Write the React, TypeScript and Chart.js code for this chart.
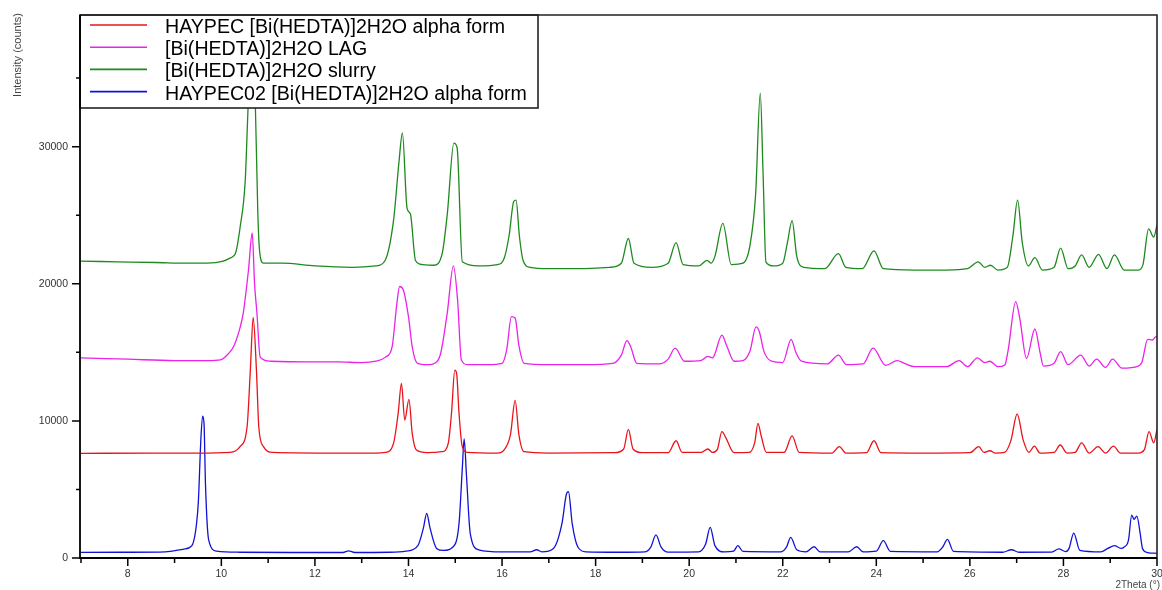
import React, { useEffect, useRef } from "react";
import { Chart, registerables } from "chart.js";

Chart.register(...registerables);

// ---- Data: [2Theta (°), intensity (counts)] ----
const seriesNames = [
  "HAYPEC [Bi(HEDTA)]2H2O alpha form",
  "[Bi(HEDTA)]2H2O LAG",
  "[Bi(HEDTA)]2H2O slurry",
  "HAYPEC02 [Bi(HEDTA)]2H2O alpha form",
];
const seriesColors = ["#e8141b", "#ea22ea", "#1e8a1e", "#1212d6"];

const haypec: [number, number][] = [
  [7.0, 7630], [8.5, 7650], [9.5, 7650], [10.19, 7700], [10.4, 8120], [10.55, 9570], [10.62, 13700],
  [10.68, 17550], [10.75, 13700], [10.8, 9570], [10.9, 8120], [11.1, 7700], [12.5, 7650], [13.3, 7650],
  [13.51, 7700], [13.68, 8360], [13.78, 10570], [13.85, 12730], [13.92, 10060], [14.01, 11570],
  [14.08, 9090], [14.17, 7870], [14.4, 7680], [14.72, 7750], [14.85, 8360], [14.92, 10570],
  [14.99, 13700], [15.03, 13450], [15.08, 10570], [15.15, 8120], [15.26, 7700], [15.9, 7650],
  [16.04, 7870], [16.18, 9000], [16.28, 11500], [16.36, 9000], [16.47, 7750], [17.0, 7650],
  [18.4, 7680], [18.6, 7950], [18.7, 9380], [18.8, 7950], [19.0, 7680], [19.55, 7680], [19.72, 8550],
  [19.85, 7700], [20.25, 7700], [20.4, 7950], [20.5, 7700], [20.6, 7900], [20.7, 9210], [20.79, 8720],
  [20.96, 7680], [21.28, 7700], [21.4, 8400], [21.47, 9820], [21.54, 8900], [21.65, 7700],
  [22.03, 7700], [22.2, 8900], [22.35, 7700], [23.05, 7650], [23.21, 8120], [23.35, 7650],
  [23.79, 7680], [23.95, 8550], [24.1, 7680], [25.0, 7650], [26.0, 7680], [26.19, 8120], [26.3, 7700],
  [26.43, 7820], [26.55, 7650], [26.74, 7700], [26.88, 8600], [27.01, 10500], [27.14, 8600],
  [27.26, 7700], [27.38, 8160], [27.5, 7650], [27.8, 7700], [27.93, 8240], [28.08, 7650],
  [28.25, 7700], [28.39, 8400], [28.55, 7650], [28.74, 8120], [28.9, 7650], [29.07, 8160],
  [29.22, 7650], [29.6, 7650], [29.73, 7900], [29.83, 9210], [29.93, 8400], [30.0, 9380],
];

const lag: [number, number][] = [
  [7.0, 14600], [8.0, 14500], [9.0, 14400], [9.7, 14400], [9.98, 14450], [10.15, 14900], [10.26, 15400],
  [10.4, 16800], [10.47, 17900], [10.58, 21000], [10.66, 23700], [10.71, 20000], [10.76, 17900],
  [10.83, 14650], [11.05, 14350], [11.8, 14300], [12.5, 14300], [13.0, 14250], [13.3, 14350],
  [13.51, 14650], [13.65, 15400], [13.75, 18500], [13.81, 19800], [13.89, 19550], [14.0, 17600],
  [14.08, 15400], [14.19, 14200], [14.4, 14100], [14.6, 14300], [14.69, 14950], [14.83, 17900],
  [14.96, 21300], [15.05, 18800], [15.13, 14450], [15.26, 14100], [15.7, 14100], [16.0, 14200],
  [16.1, 15200], [16.2, 17600], [16.28, 17500], [16.36, 15500], [16.47, 14200], [17.0, 14100],
  [17.8, 14100], [18.37, 14200], [18.55, 14800], [18.67, 15850], [18.75, 15400], [18.88, 14200],
  [19.36, 14150], [19.55, 14500], [19.7, 15300], [19.9, 14350], [20.25, 14400], [20.4, 14700],
  [20.5, 14600], [20.7, 16250], [20.8, 15500], [20.96, 14350], [21.15, 14400], [21.3, 15100],
  [21.43, 16850], [21.5, 16500], [21.6, 15050], [21.76, 14350], [22.0, 14250], [22.18, 15950],
  [22.28, 15000], [22.4, 14350], [22.95, 14150], [23.19, 14800], [23.36, 14100], [23.72, 14150],
  [23.93, 15300], [24.2, 14050], [24.45, 14400], [24.6, 14200], [24.82, 13950], [25.5, 13950],
  [25.77, 14400], [25.95, 13950], [26.16, 14600], [26.32, 14250], [26.43, 14350], [26.6, 13950],
  [26.75, 14100], [26.82, 15200], [26.98, 18700], [27.07, 17400], [27.21, 14550], [27.39, 16700],
  [27.5, 15000], [27.57, 14000], [27.8, 14200], [27.94, 15050], [28.1, 14100], [28.37, 14800],
  [28.55, 14000], [28.71, 14500], [28.9, 13900], [29.05, 14500], [29.25, 13850], [29.6, 14000],
  [29.68, 14300], [29.8, 15950], [29.9, 15900], [29.98, 16150], [30.0, 16050],
];

const slurry: [number, number][] = [
  [7.0, 21650], [7.8, 21600], [8.6, 21550], [9.3, 21500], [9.7, 21500], [10.04, 21650], [10.2, 21900],
  [10.3, 22200], [10.4, 24100], [10.51, 27500], [10.58, 33500], [10.66, 37500], [10.72, 34000],
  [10.78, 25100], [10.82, 22300], [10.9, 21500], [11.3, 21500], [12.0, 21300], [12.8, 21200],
  [13.3, 21300], [13.5, 21700], [13.68, 24600], [13.8, 29000], [13.87, 31000], [13.97, 25500],
  [14.04, 25100], [14.15, 21700], [14.3, 21400], [14.54, 21350], [14.72, 22200], [14.83, 25100],
  [14.97, 30250], [15.04, 29900], [15.15, 21600], [15.5, 21300], [15.9, 21400], [16.05, 21900],
  [16.15, 23500], [16.25, 26000], [16.3, 26100], [16.37, 23500], [16.45, 21700], [16.6, 21200],
  [17.0, 21100], [17.6, 21100], [18.3, 21200], [18.55, 21500], [18.7, 23300], [18.82, 21500],
  [19.2, 21200], [19.55, 21500], [19.72, 23000], [19.87, 21400], [20.2, 21300], [20.38, 21700],
  [20.47, 21500], [20.55, 22000], [20.72, 24400], [20.9, 21400], [21.15, 21500], [21.3, 22800],
  [21.42, 26500], [21.52, 33900], [21.58, 28000], [21.64, 21600], [21.8, 21300], [22.0, 21500],
  [22.1, 23000], [22.2, 24600], [22.3, 22000], [22.45, 21200], [22.9, 21100], [23.19, 22200],
  [23.35, 21200], [23.7, 21100], [23.95, 22400], [24.15, 21100], [24.8, 21000], [25.5, 21000],
  [25.95, 21100], [26.18, 21600], [26.32, 21200], [26.44, 21350], [26.6, 21000], [26.8, 21200],
  [26.92, 23500], [27.02, 26100], [27.12, 23000], [27.25, 21300], [27.39, 21900], [27.55, 21000],
  [27.8, 21200], [27.94, 22600], [28.1, 21100], [28.25, 21300], [28.39, 22100], [28.55, 21200],
  [28.75, 22150], [28.93, 21100], [29.09, 22100], [29.3, 21000], [29.6, 21000], [29.7, 21400],
  [29.82, 24000], [29.93, 23400], [30.0, 24300],
];

const haypec02: [number, number][] = [
  [7.0, 415], [8.0, 420], [8.8, 450], [9.2, 650], [9.37, 900], [9.47, 2500], [9.51, 4200], [9.56, 8500],
  [9.6, 10350], [9.63, 9800], [9.66, 5460], [9.73, 1300], [9.9, 500], [10.4, 420], [11.5, 400],
  [12.6, 400], [12.72, 520], [12.85, 400], [13.6, 420], [13.95, 500], [14.2, 900], [14.32, 2200],
  [14.39, 3260], [14.46, 2200], [14.6, 700], [14.75, 550], [14.95, 800], [15.08, 2500], [15.15, 6500],
  [15.19, 8680], [15.24, 6000], [15.32, 1800], [15.5, 600], [16.0, 450], [16.6, 450], [16.74, 600],
  [16.85, 450], [17.1, 700], [17.28, 2500], [17.38, 4700], [17.42, 4830], [17.5, 2500], [17.62, 800],
  [17.8, 450], [18.5, 420], [19.05, 450], [19.18, 800], [19.29, 1680], [19.4, 800], [19.55, 430],
  [20.2, 450], [20.35, 1000], [20.45, 2240], [20.55, 900], [20.75, 450], [20.95, 500], [21.04, 900],
  [21.15, 480], [21.95, 450], [22.08, 800], [22.17, 1510], [22.3, 600], [22.5, 450], [22.67, 820],
  [22.8, 450], [23.4, 440], [23.58, 820], [23.72, 440], [24.0, 500], [24.15, 1260], [24.3, 480],
  [25.3, 450], [25.42, 800], [25.52, 1360], [25.65, 480], [26.7, 420], [26.89, 600], [27.05, 420],
  [27.75, 430], [27.9, 660], [28.05, 470], [28.12, 700], [28.22, 1820], [28.35, 560], [28.8, 450],
  [28.95, 700], [29.09, 900], [29.23, 700], [29.3, 800], [29.39, 1300], [29.46, 3130], [29.51, 2820],
  [29.57, 3060], [29.64, 1800], [29.69, 700], [29.8, 400], [30.0, 340],
];

const xMajorTicks = [8, 10, 12, 14, 16, 18, 20, 22, 24, 26, 28, 30];
const xMinorTicks = [7, 9, 11, 13, 15, 17, 19, 21, 23, 25, 27, 29];
const yMajorTicks = [0, 10000, 20000, 30000];
const yMinorTicks = [5000, 15000, 25000, 35000];
const xRange = [7, 30];
const yRange = [0, 39600];
const xTitle = "2Theta (°)";
const yTitle = "Intensity (counts)";

const allSeries = [haypec, lag, slurry, haypec02];
const FONT = "Arial, 'Liberation Sans', sans-serif";

export default function App() {
  const ref = useRef<HTMLCanvasElement>(null);

  useEffect(() => {
    document.body.style.margin = "0";
    const canvas = ref.current;
    if (!canvas) return;

    const decor = {
      id: "decor",
      afterDatasetsDraw(chart: any) {
        const ctx = chart.ctx;
        const a = chart.chartArea;
        // legend box (inside plot, top-left)
        const lx = a.left - 1, ly = a.top, lw = 458, lh = 93;
        ctx.save();
        ctx.fillStyle = "#ffffff";
        ctx.fillRect(lx, ly, lw, lh);
        ctx.strokeStyle = "#222";
        ctx.lineWidth = 1.6;
        ctx.strokeRect(lx, ly, lw, lh);
        ctx.font = `19.6px ${FONT}`;
        ctx.textBaseline = "middle";
        ctx.textAlign = "left";
        seriesNames.forEach((name, i) => {
          const yy = ly + 10 + i * 22.2;
          ctx.strokeStyle = seriesColors[i];
          ctx.lineWidth = 1.6;
          ctx.beginPath();
          ctx.moveTo(lx + 10, yy);
          ctx.lineTo(lx + 67, yy);
          ctx.stroke();
          ctx.fillStyle = "#000";
          ctx.fillText(name, lx + 85, yy + 2.5);
        });
        ctx.restore();
      },
      afterDraw(chart: any) {
        const ctx = chart.ctx;
        const a = chart.chartArea;
        const xs = chart.scales.x;
        const ys = chart.scales.y;
        ctx.save();
        // frame
        ctx.strokeStyle = "#222";
        ctx.lineWidth = 1.6;
        ctx.beginPath();
        ctx.moveTo(a.left - 1, a.top);
        ctx.lineTo(a.right, a.top);
        ctx.lineTo(a.right, a.bottom);
        ctx.stroke();
        ctx.strokeStyle = "#000";
        ctx.lineWidth = 1.8;
        ctx.beginPath();
        ctx.moveTo(a.left - 1, a.top);
        ctx.lineTo(a.left - 1, a.bottom);
        ctx.lineTo(a.right, a.bottom);
        ctx.stroke();
        // ticks
        ctx.lineWidth = 1.5;
        ctx.beginPath();
        xMajorTicks.forEach((v) => {
          const p = xs.getPixelForValue(v);
          ctx.moveTo(p, a.bottom);
          ctx.lineTo(p, a.bottom + 8);
        });
        xMinorTicks.forEach((v) => {
          const p = xs.getPixelForValue(v);
          ctx.moveTo(p, a.bottom);
          ctx.lineTo(p, a.bottom + 5);
        });
        yMajorTicks.forEach((v) => {
          const p = ys.getPixelForValue(v);
          ctx.moveTo(a.left - 1, p);
          ctx.lineTo(a.left - 9, p);
        });
        yMinorTicks.forEach((v) => {
          const p = ys.getPixelForValue(v);
          ctx.moveTo(a.left - 1, p);
          ctx.lineTo(a.left - 5, p);
        });
        ctx.stroke();
        // axis titles
        ctx.fillStyle = "#444";
        ctx.font = `10px ${FONT}`;
        ctx.textAlign = "right";
        ctx.textBaseline = "middle";
        ctx.fillText(xTitle, 1160, 585);
        ctx.font = `11px ${FONT}`;
        ctx.translate(18, 55);
        ctx.rotate(-Math.PI / 2);
        ctx.textAlign = "center";
        ctx.fillText(yTitle, 0, 0);
        ctx.restore();
      },
    };

    const chart = new Chart(canvas, {
      type: "line",
      data: {
        datasets: allSeries.map((s, i) => ({
          label: seriesNames[i],
          data: s.map(([x, y]) => ({ x, y })),
          borderColor: seriesColors[i],
          borderWidth: 1.3,
          pointRadius: 0,
          fill: false,
          cubicInterpolationMode: "monotone" as const,
        })),
      },
      options: {
        responsive: false,
        animation: false,
        devicePixelRatio: 1,
        layout: { padding: { top: 15, right: 5, left: 0, bottom: 0 } },
        plugins: { legend: { display: false }, tooltip: { enabled: false } },
        scales: {
          x: {
            type: "linear",
            min: xRange[0],
            max: xRange[1],
            afterBuildTicks: (s: any) => {
              s.ticks = xMajorTicks.map((v) => ({ value: v }));
            },
            afterFit: (s: any) => {
              s.height = 32;
              s.paddingLeft = 0;
              s.paddingRight = 0;
            },
            grid: { display: false, drawTicks: false },
            border: { display: false },
            ticks: {
              padding: 10,
              color: "#333",
              font: { family: FONT, size: 10.5 },
              maxRotation: 0,
              autoSkip: false,
              callback: (v: any) => String(v),
            },
          },
          y: {
            type: "linear",
            min: yRange[0],
            max: yRange[1],
            afterBuildTicks: (s: any) => {
              s.ticks = yMajorTicks.map((v) => ({ value: v }));
            },
            afterFit: (s: any) => {
              s.width = 81;
              s.paddingTop = 0;
              s.paddingBottom = 0;
            },
            grid: { display: false, drawTicks: false },
            border: { display: false },
            ticks: {
              padding: 13,
              color: "#333",
              font: { family: FONT, size: 10.5 },
              autoSkip: false,
              callback: (v: any) => String(v),
            },
          },
        },
      },
      plugins: [decor],
    });
    return () => chart.destroy();
  }, []);

  return (
    <div style={{ width: 1162, height: 590 }}>
      <canvas ref={ref} width={1162} height={590} style={{ display: "block" }} />
    </div>
  );
}
